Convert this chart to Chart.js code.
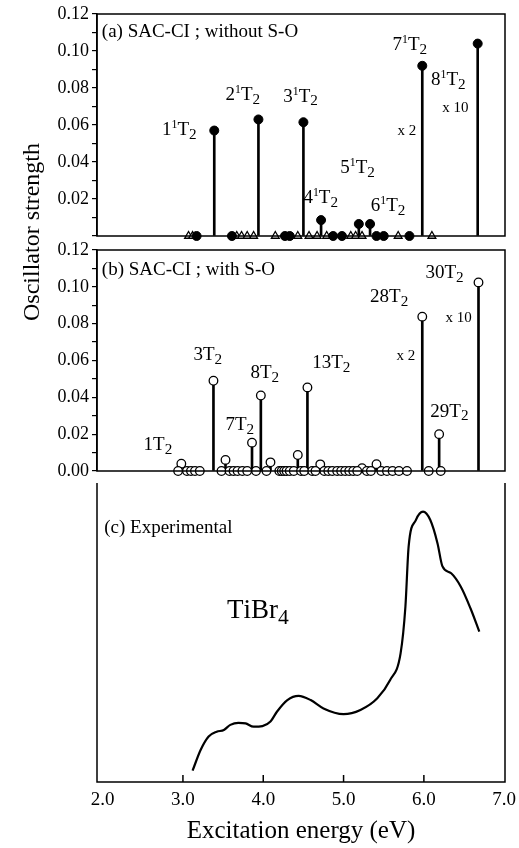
<!DOCTYPE html>
<html>
<head>
<meta charset="utf-8">
<script src="https://cdn.jsdelivr.net/npm/chart.js@4.4.1/dist/chart.umd.min.js"></script>
<style>
  html, body { margin: 0; padding: 0; background: #fff; }
  #wrap { position: relative; width: 519px; height: 848px; }
  #wrap canvas { position: absolute; left: 0; top: 0; }
</style>
</head>
<body>
<div id="wrap">
  <canvas id="panelA" width="519" height="848"></canvas>
  <canvas id="panelB" width="519" height="848"></canvas>
  <canvas id="panelC" width="519" height="848"></canvas>
</div>
<script>
// (a) SAC-CI without spin-orbit: allowed states (filled dots) and dark states (triangles)
const aEnergy   = [3.39, 3.94, 4.50, 4.72, 5.19, 5.33, 5.98, 6.67, 3.17, 3.61, 4.27, 4.33, 4.87, 4.98, 5.41, 5.50, 5.82]
const aStrength = [0.057, 0.063, 0.0615, 0.0086, 0.0065, 0.0065, 0.092, 0.104, 0, 0, 0, 0, 0, 0, 0, 0, 0]
const aDarkEnergy = [3.07, 3.12, 3.67, 3.73, 3.80, 3.88, 4.15, 4.43, 4.57, 4.67, 4.79, 5.09, 5.15, 5.23, 5.68, 6.10]

// (b) SAC-CI with spin-orbit
const bEnergy = [2.98, 3.38, 3.53, 3.86, 3.97, 4.09, 4.43, 4.55, 4.71, 5.23, 5.41, 5.98, 6.19, 6.68,
  2.94, 3.05, 3.10, 3.15, 3.21, 3.48, 3.58, 3.63, 3.68, 3.74, 3.80, 3.91, 4.04, 4.20, 4.23, 4.26, 4.29,
  4.33, 4.38, 4.47, 4.51, 4.61, 4.65, 4.76, 4.81, 4.86, 4.92, 4.97, 5.02, 5.07, 5.12, 5.17, 5.29,
  5.34, 5.47, 5.54, 5.61, 5.69, 5.79, 6.06, 6.21]
const bStrength = [0.004, 0.049, 0.006, 0.0154, 0.041, 0.0047, 0.0087, 0.0454, 0.0036, 0.0015, 0.0037, 0.0838, 0.020, 0.1024,
  0, 0, 0, 0, 0, 0, 0, 0, 0, 0, 0, 0, 0, 0, 0, 0, 0,
  0, 0, 0, 0, 0, 0, 0, 0, 0, 0, 0, 0, 0, 0, 0, 0,
  0, 0, 0, 0, 0, 0, 0, 0]

// (c) experimental spectrum, arbitrary units
const cEnergy = [3.12, 3.22, 3.32, 3.42, 3.51, 3.59, 3.69, 3.78, 3.88, 3.99, 4.09, 4.17, 4.30, 4.44, 4.59,
  4.75, 5.00, 5.21, 5.42, 5.58, 5.71, 5.77, 5.81, 5.90, 5.99, 6.08, 6.17, 6.23, 6.34, 6.46, 6.58, 6.69]
const cAbsorb = [3.8, 10.7, 15.2, 16.8, 17.4, 19.1, 19.8, 19.6, 18.5, 18.7, 20.2, 23.5, 27.4, 28.8, 27.4,
  24.6, 22.7, 24.1, 28.0, 34.1, 43.0, 58.6, 78.7, 87.6, 90.4, 87.6, 79.8, 72.2, 69.8, 65.3, 58.1, 50.3]

const xTicks = [2, 3, 4, 5, 6, 7]

// text on the panels, placed in data units ('^' = superscript, '_' = subscript)
const aNotes = [
  ['(a) SAC-CI ; without S-O', 1.99, 0.1076, 19],
  ['1^1T_2', 2.74, 0.0546, 19], ['2^1T_2', 3.53, 0.0735, 19], ['3^1T_2', 4.25, 0.0726, 19],
  ['4^1T_2', 4.50, 0.018, 19], ['5^1T_2', 4.96, 0.0339, 19], ['6^1T_2', 5.34, 0.0135, 19],
  ['7^1T_2', 5.61, 0.1005, 19], ['8^1T_2', 6.09, 0.0816, 19],
  ['x 2', 5.67, 0.0546, 15], ['x 10', 6.23, 0.0672, 15],
]
const bNotes = [
  ['(b) SAC-CI ; with S-O', 1.99, 0.1064, 19],
  ['1T_2', 2.51, 0.0114, 19], ['3T_2', 3.13, 0.0603, 19], ['7T_2', 3.53, 0.0223, 19],
  ['8T_2', 3.84, 0.0503, 19], ['13T_2', 4.61, 0.0558, 19], ['28T_2', 5.33, 0.0919, 19],
  ['29T_2', 6.08, 0.0295, 19], ['30T_2', 6.02, 0.1046, 19],
  ['x 2', 5.66, 0.0603, 15], ['x 10', 6.27, 0.081, 15],
]
const cNotes = [
  ['(c) Experimental', 2.02, 83.2, 19],
  ['TiBr_4', 3.55, 54.8, 27],
]

const serif = '"Liberation Serif", "Times New Roman", serif'
Chart.defaults.font.family = serif
Chart.defaults.color = '#000'

function drawRich(ctx, str, x, y, size) {
  let cx = x
  for (let i = 0; i < str.length; i++) {
    let ch = str[i], s = size, dy = 0
    if (ch === '^') { ch = str[++i]; s = size * 0.62; dy = -size * 0.36 }
    else if (ch === '_') { ch = str[++i]; s = size * 0.8; dy = size * 0.2 }
    ctx.font = `${s}px ${serif}`
    ctx.fillText(ch, cx, y + dy)
    cx += ctx.measureText(ch).width
  }
}

const notesPlugin = {
  id: 'notes',
  afterDraw(chart, args, opts) {
    const ctx = chart.ctx
    const { x, y } = chart.scales
    ctx.save()
    ctx.fillStyle = '#000'
    ctx.textBaseline = 'alphabetic'
    ctx.textAlign = 'left'
    for (const [t, ex, ey, size] of opts.items || []) {
      drawRich(ctx, t, x.getPixelForValue(ex), y.getPixelForValue(ey), size)
    }
    if (opts.yTitle) {
      ctx.translate(33, 232)
      ctx.rotate(-Math.PI / 2)
      ctx.textAlign = 'center'
      ctx.textBaseline = 'middle'
      ctx.font = `24px ${serif}`
      ctx.fillText(opts.yTitle, 0, 0)
    }
    ctx.restore()
  }
}

const framePlugin = {
  id: 'frame',
  afterDraw(chart, args, opts) {
    const { left, right, top, bottom } = chart.chartArea
    const ctx = chart.ctx
    ctx.save()
    ctx.strokeStyle = '#000'
    ctx.lineWidth = 1.5
    ctx.beginPath()
    if (opts.open) {
      ctx.moveTo(left, top); ctx.lineTo(left, bottom); ctx.lineTo(right, bottom); ctx.lineTo(right, top)
      for (const v of xTicks.slice(1, -1)) {
        const px = chart.scales.x.getPixelForValue(v)
        ctx.moveTo(px, bottom); ctx.lineTo(px, bottom - 7)
      }
    } else {
      ctx.rect(left, top, right - left, bottom - top)
    }
    ctx.stroke()
    ctx.restore()
  }
}

const xAxis = (show) => ({
  type: 'linear', min: 1.93, max: 7.01, offset: false, display: show,
  afterBuildTicks: s => { s.ticks = xTicks.map(v => ({ value: v })) },
  afterFit: s => { if (show) { s.height = 66; s.paddingLeft = 0; s.paddingRight = 0 } },
  grid: { display: false, drawTicks: false },
  border: { display: false },
  ticks: { autoSkip: false, maxRotation: 0, padding: 7, font: { size: 19 }, callback: v => v.toFixed(1) },
  title: { display: show, text: 'Excitation energy (eV)', font: { size: 25 }, padding: { top: 0, bottom: 2 } },
})

const yAxis = (zeroLabel) => ({
  type: 'linear', min: 0, max: 0.12,
  afterFit: s => { s.width = 97 },
  afterBuildTicks: s => { s.ticks = [0, 0.01, 0.02, 0.03, 0.04, 0.05, 0.06, 0.07, 0.08, 0.09, 0.10, 0.11, 0.12].map(v => ({ value: v })) },
  border: { display: true, color: '#000', width: 1.5 },
  grid: { drawOnChartArea: false, drawTicks: true, tickLength: 5, color: '#000', lineWidth: 1.2 },
  ticks: {
    autoSkip: false, padding: 3, font: { size: 18 },
    callback: v => {
      const k = Math.round(v * 100)
      if (k % 2) return ''
      if (k === 0 && !zeroLabel) return ''
      return v.toFixed(2)
    }
  }
})

const common = {
  responsive: false, animation: false, events: [],
  plugins: { legend: { display: false }, tooltip: { enabled: false } },
}

new Chart(document.getElementById('panelA'), {
  type: 'bar',
  data: {
    datasets: [
      {
        type: 'scatter', order: 1, clip: false,
        data: aEnergy.map((e, i) => ({ x: e, y: aStrength[i] })),
        pointStyle: 'circle', pointRadius: 4.5, pointBackgroundColor: '#000', pointBorderColor: '#000', pointBorderWidth: 1,
      },
      {
        type: 'scatter', order: 1, clip: false,
        data: aDarkEnergy.map(e => ({ x: e, y: 0 })),
        pointStyle: 'triangle', pointRadius: 4.5, pointBackgroundColor: '#fff', pointBorderColor: '#000', pointBorderWidth: 1.3,
      },
      {
        order: 2, grouped: false, barThickness: 2, backgroundColor: '#000',
        data: aEnergy.map((e, i) => ({ x: e, y: aStrength[i] })),
      },
    ]
  },
  options: {
    ...common,
    layout: { padding: { top: 14, right: 14, bottom: 612, left: 0 } },
    scales: { x: xAxis(false), y: yAxis(false) },
    plugins: { ...common.plugins, notes: { items: aNotes, yTitle: 'Oscillator strength' }, frame: {} },
  },
  plugins: [notesPlugin, framePlugin],
})

new Chart(document.getElementById('panelB'), {
  type: 'bar',
  data: {
    datasets: [
      {
        type: 'scatter', order: 1, clip: false,
        data: bEnergy.map((e, i) => ({ x: e, y: bStrength[i] })),
        pointStyle: 'circle', pointRadius: 4.3, pointBackgroundColor: '#fff', pointBorderColor: '#000', pointBorderWidth: 1.3,
      },
      {
        order: 2, grouped: false, barThickness: 2, backgroundColor: '#000',
        data: bEnergy.map((e, i) => ({ x: e, y: bStrength[i] })),
      },
    ]
  },
  options: {
    ...common,
    layout: { padding: { top: 250, right: 14, bottom: 377, left: 0 } },
    scales: { x: xAxis(false), y: yAxis(true) },
    plugins: { ...common.plugins, notes: { items: bNotes }, frame: {} },
  },
  plugins: [notesPlugin, framePlugin],
})

new Chart(document.getElementById('panelC'), {
  type: 'line',
  data: {
    datasets: [{
      data: cEnergy.map((e, i) => ({ x: e, y: cAbsorb[i] })),
      borderColor: '#000', borderWidth: 2.2, pointRadius: 0,
      cubicInterpolationMode: 'monotone', fill: false,
    }]
  },
  options: {
    ...common,
    layout: { padding: { top: 483, right: 14, bottom: 0, left: 97 } },
    scales: {
      x: xAxis(true),
      y: { type: 'linear', min: 0, max: 100, display: false },
    },
    plugins: { ...common.plugins, notes: { items: cNotes }, frame: { open: true } },
  },
  plugins: [notesPlugin, framePlugin],
})
</script>
</body>
</html>
